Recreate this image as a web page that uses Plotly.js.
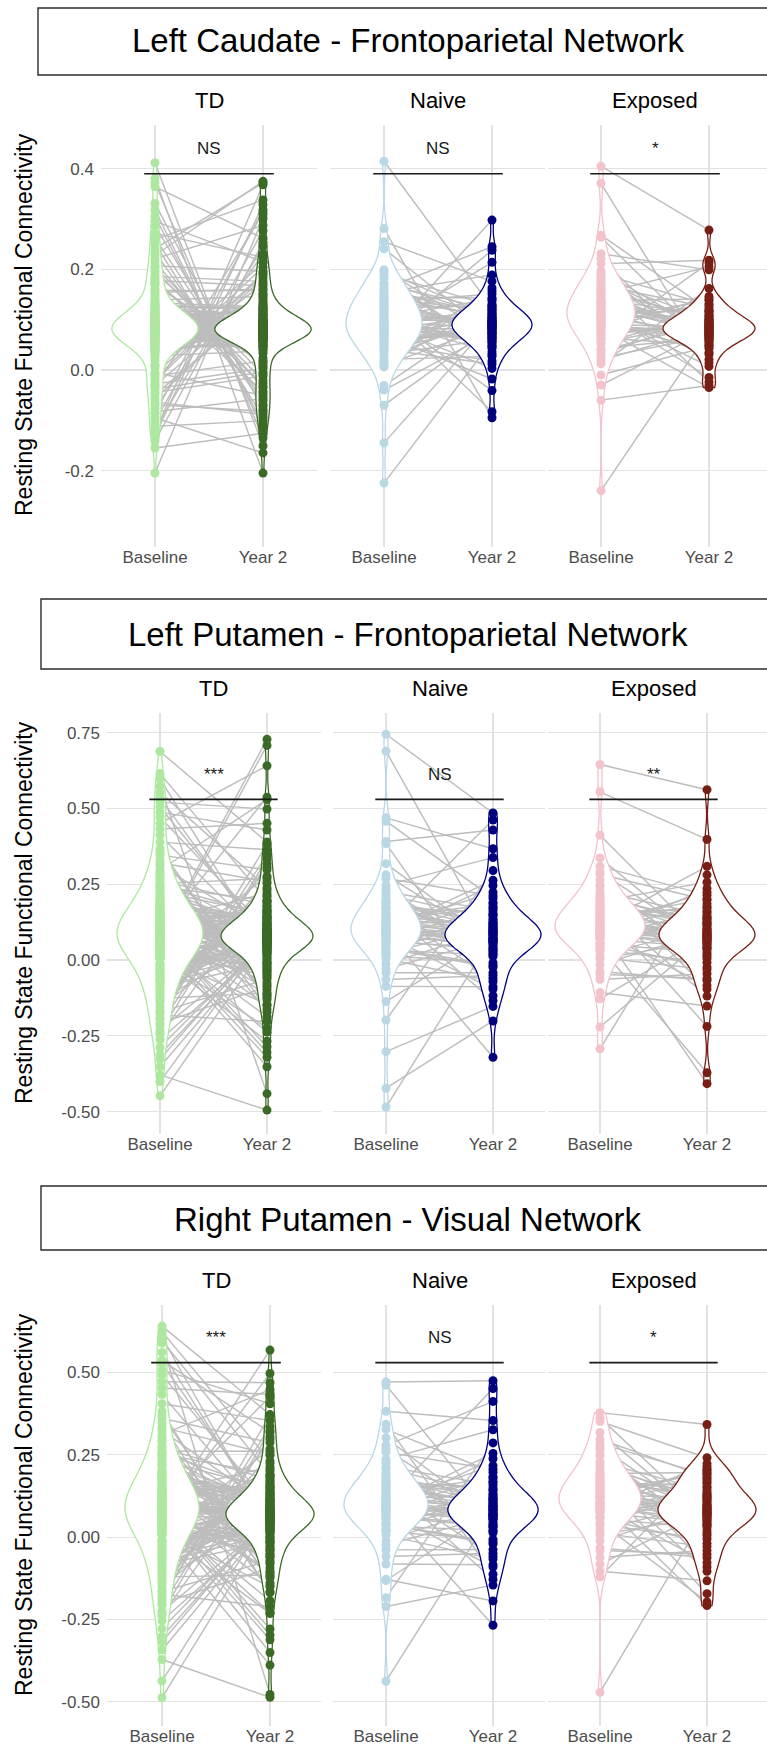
<!DOCTYPE html>
<html><head><meta charset="utf-8">
<script src="https://cdn.plot.ly/plotly-3.0.1.min.js"></script>
<style>html,body{margin:0;padding:0;background:#fff}#chart{width:767px;height:1748px}</style>
</head><body><div id="chart"></div>
<script>
// ---------------- DATA ----------------
const panelTitles = ['Left Caudate - Frontoparietal Network','Left Putamen - Frontoparietal Network','Right Putamen - Visual Network'];
const groups = ['TD','Naive','Exposed'];
const timepoints = ['Baseline','Year 2'];
const sigLabels = [['NS','NS','*'],['***','NS','**'],['***','NS','*']];
const sigBarY = [0.39, 0.53, 0.53];
const yTickVals = [[-0.2,0,0.2,0.4],[-0.5,-0.25,0,0.25,0.5,0.75],[-0.5,-0.25,0,0.25,0.5]];
const yTickText = [['-0.2','0.0','0.2','0.4'],['-0.50','-0.25','0.00','0.25','0.50','0.75'],['-0.50','-0.25','0.00','0.25','0.50']];
const yAxisTitle = 'Resting State Functional Connectivity';

// Panel 1: Left Caudate - Frontoparietal Network
const lcf_TD_base = [0.081,0.064,0.112,0.043,0.097,0.127,-0.012,0.178,-0.087,0.262,
 0.074,0.055,0.103,0.089,0.036,0.119,0.161,0.004,0.412,-0.118,
 0.068,0.092,0.078,0.131,0.047,0.085,-0.031,0.193,0.241,-0.064,
 0.059,0.101,0.083,0.071,0.115,0.028,0.149,-0.022,-0.102,0.305,
 0.087,0.062,0.095,0.052,0.108,0.076,0.207,-0.045,0.381,-0.131,
 0.079,0.099,0.066,0.122,0.041,0.091,0.169,0.011,-0.076,0.287,
 0.072,0.084,0.106,0.058,0.136,0.033,-0.005,0.186,0.228,-0.155,
 0.094,0.069,0.081,0.113,0.049,0.077,0.154,-0.038,0.364,-0.095,
 0.086,0.061,0.098,0.073,0.125,0.039,0.019,0.215,-0.205,0.252,
 0.065,0.109,0.088,0.054,0.118,0.082,-0.057,0.174,0.331,-0.124,
 0.076,0.093,0.070,0.104,0.045,0.139,0.198,-0.017,0.272,0.372,
 0.083,0.071,0.104,0.058,0.119,0.091,-0.028,0.158,0.221,-0.083,
 0.077,0.096,0.063,0.128,0.042,0.088,0.182,0.008,0.318,-0.141,
 0.085,0.067,0.111,0.052,0.097,0.075,-0.049,0.143,0.259,-0.069,
 0.069,0.102,0.081,0.124,0.037,0.094,0.171,-0.009,0.296,-0.112,
 0.090,0.073,0.107,0.061,0.133,0.079,0.026,0.204,-0.036,0.234];
const lcf_TD_y2 = [0.079,0.091,0.067,0.103,0.084,0.122,0.018,0.167,0.318,-0.061,
 0.073,0.088,0.096,0.058,0.112,0.081,-0.027,0.204,-0.151,0.246,
 0.085,0.069,0.099,0.077,0.047,0.131,0.152,0.006,0.372,-0.088,
 0.082,0.094,0.062,0.108,0.075,0.038,-0.043,0.183,0.277,-0.109,
 0.071,0.087,0.101,0.064,0.118,0.053,0.196,-0.012,-0.205,0.329,
 0.089,0.076,0.093,0.059,0.127,0.083,0.024,0.142,0.231,-0.072,
 0.068,0.097,0.080,0.114,0.051,0.072,-0.051,0.176,0.375,-0.126,
 0.092,0.078,0.086,0.063,0.105,0.044,0.161,-0.004,0.262,-0.165,
 0.074,0.084,0.098,0.066,0.121,0.056,0.213,-0.036,0.301,-0.094,
 0.087,0.070,0.109,0.061,0.095,0.033,0.137,0.011,-0.079,0.368,
 0.080,0.090,0.075,0.116,0.049,0.146,-0.021,0.189,0.224,-0.135,
 0.083,0.071,0.097,0.064,0.111,0.088,0.003,0.158,0.287,-0.057,
 0.076,0.092,0.068,0.124,0.057,0.081,-0.033,0.171,-0.116,0.253,
 0.089,0.074,0.102,0.062,0.119,0.046,0.133,0.016,0.338,-0.082,
 0.079,0.095,0.066,0.108,0.085,0.041,-0.046,0.192,0.215,-0.101,
 0.072,0.086,0.099,0.059,0.126,0.078,0.149,-0.008,0.311,-0.068];
const lcf_Naive_base = [0.092,0.148,0.031,0.415,0.117,0.064,0.183,-0.145,0.105,0.041,
 0.136,0.078,0.199,0.011,0.281,0.126,0.087,0.057,-0.040,0.161,
 0.099,0.021,0.142,0.072,0.255,0.113,0.049,0.174,-0.225,0.084,
 0.131,0.006,0.096,0.166,0.061,0.241,0.121,-0.031,0.081,0.154,
 0.037,0.108,0.191,0.069,-0.070,0.139,0.089,0.016,0.127,0.074,
 0.113,0.058,0.171,0.094,0.026,0.145,0.082,0.187,0.047,0.123,
 0.067,0.158,0.101,0.009,0.134,0.079,0.196,0.052,0.116,0.088];
const lcf_Naive_y2 = [0.087,0.102,0.061,0.124,0.079,0.298,0.043,0.096,0.141,0.012,
 0.083,0.112,0.068,0.157,-0.095,0.091,0.052,0.131,0.074,0.245,
 0.099,0.027,0.118,0.065,0.176,-0.041,0.088,0.106,0.057,0.214,
 0.081,0.137,0.036,0.094,0.238,0.071,-0.083,0.115,0.062,0.189,
 0.093,0.048,0.127,-0.018,0.085,0.109,0.003,0.163,0.077,0.098,
 0.091,0.074,0.119,0.056,0.102,0.143,0.082,0.031,0.097,0.128,
 0.066,0.111,0.047,0.087,0.151,0.073,0.105,0.018,0.094,0.122];
const lcf_Exposed_base = [0.121,0.087,0.162,0.405,0.104,0.053,0.188,0.137,-0.060,0.095,
 0.147,0.069,0.211,0.116,0.031,0.371,0.129,0.078,0.174,-0.240,
 0.109,0.152,0.043,0.268,0.098,0.134,0.012,0.197,0.083,0.125,
 0.264,0.061,0.141,-0.030,0.112,0.168,0.091,0.231,0.024,0.119,
 0.156,-0.010,0.101,0.183,0.072,
 0.133,0.091,0.178,0.064,0.117,0.149,0.039,0.106,0.191,0.127,
 0.076,0.159,0.102,0.221,0.054,0.138,0.088,0.171,0.113,0.019];
const lcf_Exposed_y2 = [0.081,0.062,0.097,0.278,0.074,0.113,0.043,0.088,-0.031,0.131,
 0.069,0.092,0.218,0.056,0.105,0.021,0.084,0.146,-0.024,0.077,
 0.099,0.205,0.064,0.119,0.035,0.089,0.162,0.071,-0.035,0.094,
 0.052,0.213,0.108,0.079,0.007,0.124,0.085,0.199,0.067,-0.015,
 0.101,0.047,0.138,0.073,0.091,
 0.083,0.066,0.101,0.049,0.116,0.078,0.092,0.031,0.129,0.071,
 0.087,0.058,0.109,0.014,0.095,0.141,0.076,0.061,0.118,0.082];

// Panel 2: Left Putamen - Frontoparietal Network
const lpf_TD_base = [0.091,0.212,-0.043,0.128,0.037,0.164,-0.118,0.275,0.072,0.412,
 0.103,-0.014,0.187,0.056,0.241,-0.172,0.139,0.008,0.688,-0.288,
 0.082,0.153,-0.067,0.226,0.019,0.118,-0.215,0.331,0.061,0.536,
 0.097,-0.029,0.176,0.045,0.262,-0.134,0.108,0.003,-0.379,0.598,
 0.086,0.198,-0.081,0.142,0.027,0.311,-0.246,0.071,0.451,-0.012,
 0.114,0.052,0.231,-0.103,0.169,0.016,0.367,-0.192,0.083,-0.448,
 0.076,0.184,-0.052,0.123,0.041,0.289,-0.155,0.099,0.574,-0.327,
 0.107,-0.036,0.205,0.064,0.148,-0.094,0.252,0.011,0.488,-0.263,
 0.088,0.171,-0.071,0.133,0.032,0.218,-0.127,0.346,0.057,-0.401,
 0.095,0.024,0.193,-0.058,0.156,0.068,0.297,-0.181,0.553,-0.352,
 0.079,0.137,-0.021,0.246,0.048,0.112,-0.209,0.389,0.005,0.521,
 0.084,0.167,-0.032,0.119,0.029,0.238,-0.141,0.096,0.432,-0.231,
 0.101,0.043,0.182,-0.075,0.135,0.014,0.279,-0.168,0.066,0.505,
 0.092,0.158,-0.048,0.211,0.035,0.126,-0.111,0.321,0.059,-0.312,
 0.077,0.193,-0.019,0.147,0.051,0.268,-0.196,0.104,0.615,-0.064,
 0.109,0.062,0.174,-0.089,0.131,0.021,0.356,-0.239,0.089,0.471];
const lpf_TD_y2 = [0.078,0.121,0.036,0.164,-0.027,0.093,0.252,-0.118,0.728,0.058,
 0.086,0.042,0.138,0.011,0.197,-0.063,0.104,-0.224,0.389,0.067,
 0.071,0.109,0.025,0.152,-0.041,0.088,0.318,-0.162,0.708,0.049,
 0.094,0.061,0.129,-0.008,0.181,0.074,-0.097,0.276,-0.495,0.033,
 0.082,0.116,0.018,0.145,-0.052,0.099,0.231,-0.187,0.641,0.063,
 0.069,0.101,0.039,0.173,-0.019,0.084,-0.131,0.347,-0.305,0.054,
 0.091,0.057,0.134,0.003,0.208,-0.074,0.112,0.537,-0.441,0.077,
 0.075,0.124,0.029,0.159,-0.034,0.087,0.269,-0.146,0.429,0.046,
 0.089,0.052,0.141,-0.013,0.192,0.066,-0.108,0.298,-0.352,0.081,
 0.073,0.106,0.021,0.167,-0.046,0.097,0.529,-0.203,0.238,0.059,
 0.084,0.119,0.044,0.147,-0.004,0.071,-0.088,0.364,-0.268,0.498,
 0.081,0.114,0.033,0.156,-0.024,0.092,0.214,-0.113,0.451,0.056,
 0.068,0.127,0.041,0.178,-0.057,0.099,-0.172,0.306,-0.238,0.072,
 0.087,0.052,0.143,0.007,0.189,-0.082,0.118,0.258,-0.321,0.064,
 0.076,0.109,0.024,0.162,-0.036,0.085,0.382,-0.151,0.197,0.048,
 0.093,0.061,0.136,-0.011,0.221,0.079,-0.124,0.333,-0.286,0.101];
const lpf_Naive_base = [0.104,0.187,0.032,0.745,0.131,-0.042,0.226,0.078,-0.302,0.152,
 0.091,0.269,0.014,0.118,0.469,0.062,0.173,-0.087,0.139,0.689,
 0.097,0.021,0.208,0.083,-0.485,0.164,0.049,0.318,0.112,-0.013,
 0.146,0.071,0.384,0.126,-0.198,0.087,0.193,0.038,0.458,0.107,
 -0.423,0.158,0.066,0.247,0.121,0.004,0.176,0.093,0.391,0.055,
 0.117,0.061,0.198,0.089,-0.064,0.143,0.026,0.234,0.101,-0.137,
 0.169,0.074,0.281,0.109,0.042,0.187,-0.029,0.132,0.081,0.215];
const lpf_Naive_y2 = [0.068,0.121,0.017,0.485,0.089,-0.042,0.163,0.051,-0.153,0.103,
 0.074,0.212,-0.009,0.132,0.367,0.038,0.094,-0.088,0.185,0.061,
 -0.321,0.113,0.027,0.246,0.079,-0.061,0.147,0.056,0.462,0.098,
 0.012,0.171,-0.118,0.083,0.295,0.044,0.126,-0.024,0.204,0.069,
 -0.201,0.108,0.031,0.338,0.086,-0.071,0.154,0.062,0.429,0.092,
 0.072,0.114,0.036,0.191,-0.051,0.097,0.148,0.021,0.263,0.083,
 -0.134,0.121,0.058,0.224,-0.017,0.104,0.067,0.175,-0.096,0.136];
const lpf_Exposed_base = [0.112,0.184,0.051,0.645,0.137,0.008,0.226,0.089,-0.107,0.158,
 0.097,0.283,0.034,0.124,0.555,0.071,0.199,-0.038,0.146,0.412,
 0.106,0.017,0.241,0.083,-0.221,0.171,0.059,0.337,0.118,-0.015,
 0.153,0.076,0.264,0.131,-0.293,0.094,0.212,0.042,0.309,0.119,
 -0.064,0.165,0.088,0.193,0.101,
 0.126,0.071,0.204,0.098,-0.047,0.162,0.031,0.248,0.114,-0.128,
 0.183,0.081,0.291,0.137,0.054,0.219,0.003,0.149,0.092,0.176];
const lpf_Exposed_y2 = [0.068,0.112,0.027,0.562,0.084,-0.031,0.147,0.052,-0.152,0.096,
 0.073,0.198,-0.008,0.124,0.398,0.041,0.087,-0.067,0.176,0.059,
 -0.408,0.106,0.019,0.236,0.078,-0.219,0.138,0.047,0.309,0.091,
 0.004,0.161,-0.096,0.082,0.281,0.036,0.119,-0.372,0.214,0.063,
 -0.045,0.133,0.071,0.257,0.099,
 0.074,0.118,0.039,0.186,-0.061,0.093,0.156,0.012,0.224,0.081,
 -0.119,0.127,0.058,0.201,-0.023,0.102,0.066,0.171,-0.084,0.141];

// Panel 3: Right Putamen - Visual Network
const rpv_TD_base = [0.093,0.221,-0.038,0.136,0.042,0.172,-0.113,0.291,0.068,0.433,
 0.108,-0.011,0.194,0.059,0.252,-0.166,0.143,0.012,0.641,-0.278,
 0.085,0.158,-0.062,0.234,0.023,0.121,-0.207,0.347,0.064,0.561,
 0.099,-0.025,0.181,0.047,0.271,-0.129,0.111,0.006,-0.372,0.607,
 0.089,0.203,-0.076,0.147,0.031,0.324,-0.238,0.074,0.472,-0.009,
 0.117,0.055,0.239,-0.098,0.174,0.019,0.382,-0.185,0.086,-0.488,
 0.079,0.189,-0.047,0.127,0.044,0.302,-0.149,0.102,0.589,-0.318,
 0.111,-0.032,0.213,0.067,0.152,-0.089,0.261,0.014,0.508,-0.254,
 0.091,0.176,-0.066,0.138,0.035,0.226,-0.121,0.361,0.061,-0.437,
 0.098,0.027,0.198,-0.053,0.161,0.071,0.311,-0.174,0.624,-0.343,
 0.082,0.141,-0.017,0.256,0.051,0.116,-0.201,0.405,0.008,0.537,
 0.087,0.172,-0.027,0.126,0.033,0.247,-0.137,0.101,0.453,-0.226,
 0.106,0.047,0.188,-0.071,0.141,0.017,0.293,-0.161,0.072,0.526,
 0.095,0.163,-0.044,0.219,0.038,0.131,-0.106,0.334,0.063,-0.302,
 0.081,0.198,-0.014,0.153,0.055,0.276,-0.191,0.109,0.597,-0.059,
 0.113,0.066,0.181,-0.084,0.137,0.024,0.371,-0.231,0.092,0.493];
const rpv_TD_y2 = [0.066,0.113,0.024,0.158,-0.036,0.087,0.248,-0.124,0.568,0.049,
 0.074,0.031,0.129,0.002,0.191,-0.071,0.096,-0.232,0.372,0.057,
 0.061,0.101,0.016,0.146,-0.049,0.079,0.305,-0.169,0.497,0.041,
 0.083,0.052,0.121,-0.015,0.174,0.064,-0.104,0.268,-0.487,0.026,
 0.071,0.108,0.009,0.137,-0.058,0.091,0.224,-0.193,0.469,0.054,
 0.059,0.094,0.029,0.166,-0.026,0.076,-0.139,0.336,-0.298,0.046,
 0.081,0.048,0.126,-0.004,0.201,-0.081,0.104,0.426,-0.478,0.068,
 0.064,0.116,0.021,0.151,-0.041,0.078,0.261,-0.151,0.405,0.037,
 0.078,0.043,0.133,-0.019,0.185,0.057,-0.115,0.287,-0.351,0.072,
 0.063,0.098,0.013,0.161,-0.053,0.088,0.448,-0.211,0.231,0.051,
 0.075,0.111,0.035,0.141,-0.011,0.062,-0.094,0.354,-0.389,0.318,
 0.069,0.107,0.023,0.149,-0.031,0.083,0.207,-0.109,0.433,0.047,
 0.058,0.119,0.034,0.171,-0.062,0.091,-0.166,0.297,-0.231,0.066,
 0.077,0.045,0.136,-0.001,0.181,-0.077,0.112,0.251,-0.312,0.061,
 0.067,0.102,0.017,0.154,-0.039,0.079,0.371,-0.146,0.189,0.042,
 0.084,0.055,0.128,-0.014,0.213,0.073,-0.119,0.324,-0.279,0.093];
const rpv_Naive_base = [0.101,0.176,0.034,0.471,0.128,-0.039,0.214,0.076,-0.211,0.149,
 0.089,0.258,0.016,0.115,0.382,0.063,0.167,-0.082,0.134,0.462,
 0.094,0.024,0.197,0.081,-0.438,0.156,0.047,0.301,0.109,-0.011,
 0.141,0.069,0.343,0.122,-0.184,0.086,0.183,0.039,0.327,0.104,
 -0.128,0.152,0.061,0.236,0.117,0.006,0.169,0.091,0.278,0.054,
 0.112,0.058,0.191,0.084,-0.059,0.138,0.021,0.226,0.097,-0.132,
 0.163,0.071,0.267,0.106,0.039,0.179,-0.024,0.126,0.077,0.208];
const rpv_Naive_y2 = [0.069,0.118,0.019,0.475,0.087,-0.038,0.158,0.053,-0.146,0.101,
 0.072,0.206,-0.007,0.129,0.354,0.039,0.092,-0.084,0.179,0.062,
 -0.268,0.111,0.028,0.238,0.077,-0.058,0.143,0.057,0.451,0.096,
 0.013,0.166,-0.113,0.082,0.286,0.045,0.123,-0.021,0.197,0.068,
 -0.194,0.106,0.032,0.326,0.085,-0.067,0.149,0.063,0.412,0.091,
 0.071,0.112,0.034,0.184,-0.049,0.094,0.141,0.019,0.254,0.081,
 -0.129,0.117,0.055,0.217,-0.015,0.101,0.064,0.169,-0.091,0.131];
const rpv_Exposed_base = [0.121,0.187,0.056,0.378,0.139,0.012,0.228,0.093,-0.104,0.161,
 0.101,0.284,0.038,0.127,0.351,0.074,0.203,-0.033,0.149,0.362,
 0.109,0.021,0.246,0.086,-0.472,0.173,0.062,0.318,0.118,-0.011,
 0.156,0.079,0.267,0.134,-0.121,0.097,0.214,0.045,0.297,0.124,
 -0.062,0.168,0.091,0.193,0.106,
 0.131,0.076,0.207,0.103,-0.041,0.166,0.034,0.252,0.118,-0.083,
 0.187,0.085,0.274,0.142,0.058,0.224,0.007,0.153,0.096,0.179];
const rpv_Exposed_y2 = [0.067,0.109,0.028,0.342,0.083,-0.029,0.141,0.051,-0.133,0.094,
 0.072,0.189,-0.006,0.121,0.241,0.041,0.086,-0.063,0.168,0.058,
 -0.208,0.104,0.019,0.223,0.077,-0.172,0.131,0.046,0.203,0.089,
 0.004,0.153,-0.091,0.081,0.214,0.036,0.116,-0.197,0.182,0.062,
 -0.041,0.127,0.071,0.196,0.098,
 0.071,0.113,0.036,0.176,-0.052,0.089,0.149,0.011,0.207,0.078,
 -0.104,0.122,0.055,0.192,-0.019,0.097,0.063,0.163,-0.078,0.134];

const panelData = [
  [[lcf_TD_base, lcf_TD_y2],[lcf_Naive_base, lcf_Naive_y2],[lcf_Exposed_base, lcf_Exposed_y2]],
  [[lpf_TD_base, lpf_TD_y2],[lpf_Naive_base, lpf_Naive_y2],[lpf_Exposed_base, lpf_Exposed_y2]],
  [[rpv_TD_base, rpv_TD_y2],[rpv_Naive_base, rpv_Naive_y2],[rpv_Exposed_base, rpv_Exposed_y2]]
];

// ---------------- STYLE / GEOMETRY ----------------
const W = 767, H = 1748;
const FONT = 'Liberation Sans, Arial, Helvetica, sans-serif';
const colors = [['#aee8a0','#3b6a27'],['#b9d7e4','#00007f'],['#f2c3cb','#771f14']];
const geom = [
 {top:125, bottom:547, yRange:[-0.352,0.487], box:[38,8,776,75], titleY:41,
  centers:[[155,263],[384,492],[601,709]], dom:[[101,317],[330,545],[548,767]],
  vw:[[43,48],[38,40],[34,46]]},
 {top:713, bottom:1134, yRange:[-0.574,0.815], box:[41,599,776,669], titleY:634,
  centers:[[160,267],[386,493],[600,707]], dom:[[107,321],[333,545],[548,767]],
  vw:[[43,46],[35,48],[45,48]]},
 {top:1305, bottom:1726, yRange:[-0.574,0.705], box:[41,1186,776,1250], titleY:1219,
  centers:[[162,270],[386,493],[600,707]], dom:[[107,321],[333,545],[548,767]],
  vw:[[37,44],[42,45],[41,49]]}
];

const traces = [];
const layout = {
  width: W, height: H, autosize: false,
  margin: {l:0, r:0, t:0, b:0, pad:0},
  paper_bgcolor: '#ffffff', plot_bgcolor: 'rgba(0,0,0,0)',
  showlegend: false, violinmode: 'overlay',
  font: {family: FONT, color: '#1a1a1a'},
  annotations: [], shapes: []
};

function axId(n){ return n === 1 ? 'x' : 'x' + n; }
function axKey(n){ return n === 1 ? 'xaxis' : 'xaxis' + n; }

for (let p = 0; p < 3; p++) {
  const G = geom[p];
  const yId = p === 0 ? 'y' : 'y' + (p + 1);
  const yKey = p === 0 ? 'yaxis' : 'yaxis' + (p + 1);
  layout[yKey] = {
    domain: [1 - G.bottom / H, 1 - G.top / H], range: G.yRange, anchor: axId(p * 3 + 1),
    tickvals: yTickVals[p], ticktext: yTickText[p], showgrid: true, gridcolor: '#e2e2e2', gridwidth: 1.1,
    zeroline: false, showline: false, ticks: '', ticklabelstandoff: 6,
    tickfont: {size: 17, color: '#4d4d4d', family: FONT}, fixedrange: true
  };
  // title box + title
  layout.shapes.push({type:'rect', xref:'paper', yref:'paper', x0: G.box[0]/W, x1: G.box[2]/W,
    y0: 1 - G.box[3]/H, y1: 1 - G.box[1]/H, line:{color:'#2b2b2b', width:1.4}, fillcolor:'rgba(0,0,0,0)'});
  layout.annotations.push({xref:'paper', yref:'paper', x: 408/W, y: 1 - G.titleY/H, text: panelTitles[p],
    showarrow:false, xanchor:'center', yanchor:'middle', font:{size:33, color:'#000', family: FONT}});
  // y axis title
  layout.annotations.push({xref:'paper', yref:'paper', x: 24/W, y: 1 - (G.top + 200)/H, text: yAxisTitle,
    textangle: -90, showarrow:false, xanchor:'center', yanchor:'middle', font:{size:23, color:'#000', family: FONT}});

  for (let g = 0; g < 3; g++) {
    const idx = p * 3 + g + 1;
    const bx = axId(idx), ox = axId(idx + 9);
    const [c1, c2] = G.centers[g];
    const gap = c2 - c1;
    const [L, R] = G.dom[g];
    const range = [1 - (c1 - L) / gap, 2 + (R - c2) / gap];
    layout[axKey(idx)] = {
      domain: [L / W, Math.min(R / W, 1)], range: range, type: 'linear', anchor: yId,
      tickvals: [1, 2], ticktext: timepoints, showgrid: true, gridcolor: '#e2e2e2', gridwidth: 1.1,
      zeroline: false, showline: false, ticks: '', ticklabelstandoff: -2,
      tickfont: {size: 17, color: '#4d4d4d', family: FONT}, fixedrange: true
    };
    layout[axKey(idx + 9)] = { overlaying: bx, range: range, type: 'linear', anchor: yId, visible: false, fixedrange: true };

    const [base, y2] = panelData[p][g];
    const n = Math.min(base.length, y2.length);
    // paired lines
    const lx = [], ly = [];
    for (let i = 0; i < n; i++) { lx.push(1, 2, null); ly.push(base[i], y2[i], null); }
    traces.push({type:'scatter', mode:'lines', x: lx, y: ly, xaxis: bx, yaxis: yId,
      line:{color:'#bdbdbd', width:1.45}, hoverinfo:'skip'});
    // violins
    [base.slice(0, n), y2.slice(0, n)].forEach((vals, k) => {
      traces.push({type:'violin', x0: k + 1, y: vals, xaxis: ox, yaxis: yId,
        width: 2 * G.vw[g][k] / gap, scalemode: 'width', spanmode: 'hard', side: 'both',
        fillcolor: '#ffffff', line: {color: colors[g][k], width: 1.3}, points: false,
        box: {visible: false}, meanline: {visible: false}, hoverinfo: 'skip', name: groups[g] + ' ' + timepoints[k]});
    });
    // points
    [base.slice(0, n), y2.slice(0, n)].forEach((vals, k) => {
      traces.push({type:'scatter', mode:'markers', x: vals.map(() => k + 1), y: vals, xaxis: ox, yaxis: yId,
        marker: {size: 9, color: colors[g][k], line: {width: 0}}, hoverinfo: 'skip'});
    });
    // significance bar
    traces.push({type:'scatter', mode:'lines', x: [0.9, 2.1], y: [sigBarY[p], sigBarY[p]], xaxis: ox, yaxis: yId,
      line: {color: '#1a1a1a', width: 1.6}, hoverinfo: 'skip'});
    layout.annotations.push({xref: bx, yref: yId, x: 1.5, y: sigBarY[p], text: sigLabels[p][g], showarrow: false,
      xanchor: 'center', yanchor: 'middle', yshift: 25, font: {size: 17, color: '#1a1a1a', family: FONT}});
    // facet label
    layout.annotations.push({xref:'paper', yref:'paper', x: ((c1 + c2) / 2) / W, y: 1 - (G.top - 25) / H,
      text: groups[g], showarrow:false, xanchor:'center', yanchor:'middle', font:{size:22, color:'#000', family: FONT}});
  }
}

Plotly.newPlot('chart', traces, layout, {staticPlot: true, displayModeBar: false});
</script>
</body></html>
